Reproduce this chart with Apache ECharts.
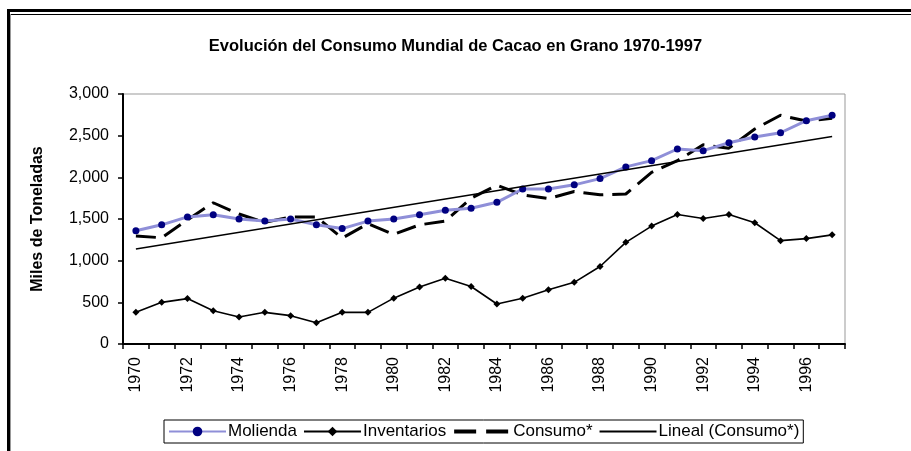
<!DOCTYPE html>
<html>
<head>
<meta charset="utf-8">
<script src="https://cdn.jsdelivr.net/npm/echarts@6/dist/echarts.min.js"></script>
<style>html,body{margin:0;padding:0;background:#fff}#c{width:911px;height:451px}</style>
</head>
<body>
<div id="c"></div>
<script>
var years = ['1970','1971','1972','1973','1974','1975','1976','1977','1978','1979','1980','1981','1982','1983','1984','1985','1986','1987','1988','1989','1990','1991','1992','1993','1994','1995','1996','1997'];
var molienda = [1360,1430,1525,1550,1500,1475,1500,1430,1385,1475,1500,1550,1605,1630,1700,1860,1860,1910,1985,2125,2200,2340,2320,2415,2485,2535,2680,2745];
var inventarios = [380,500,545,400,325,380,340,255,380,380,550,685,790,690,480,550,650,740,930,1220,1415,1555,1505,1555,1455,1240,1265,1310];
var consumo = [1295,1275,1490,1695,1560,1460,1525,1525,1270,1445,1315,1430,1475,1750,1905,1790,1745,1830,1790,1800,2060,2200,2390,2350,2580,2745,2675,2710];
var linealYears = ['1970','1997'];
var linealValues = [1140,2490];
var yTicks = [0,500,1000,1500,2000,2500,3000];

var FONT = '"Liberation Sans", Arial, sans-serif';
var chart = echarts.init(document.getElementById('c'), null, {renderer:'canvas'});
chart.setOption({
  backgroundColor:'#fff',
  animation:false,
  textStyle:{fontFamily:FONT},
  title:{
    text:'Evolución del Consumo Mundial de Cacao en Grano 1970-1997',
    left:'center', top:33,
    textStyle:{fontFamily:FONT,fontSize:16.5,fontWeight:'bold',color:'#000'}
  },
  graphic:[
    {type:'line',shape:{x1:7,y1:10.5,x2:911,y2:10.5},style:{stroke:'#000',lineWidth:3}},
    {type:'line',shape:{x1:10,y1:14.5,x2:911,y2:14.5},style:{stroke:'#000',lineWidth:1.2}},
    {type:'line',shape:{x1:8.5,y1:9,x2:8.5,y2:451},style:{stroke:'#000',lineWidth:3}},
    {type:'line',shape:{x1:10.5,y1:14,x2:10.5,y2:451},style:{stroke:'#999',lineWidth:1}}
  ],
  legend:{
    left:164, top:420, width:680,
    padding:[3,4,3,4],
    borderColor:'#000', borderWidth:1,
    itemWidth:57, itemHeight:12, itemGap:6,
    textStyle:{fontFamily:FONT,fontSize:17,color:'#000',padding:[0,0,0,-3]},
    data:[
      {name:'Molienda'},
      {name:'Inventarios'},
      {name:'Consumo*',itemStyle:{opacity:0},lineStyle:{width:4,type:[22,10]}},
      {name:'Lineal (Consumo*)',itemStyle:{opacity:0}}
    ]
  },
  grid:{left:123,right:66,top:94,bottom:107,show:true,borderColor:'#999',borderWidth:1,containLabel:false},
  xAxis:{
    type:'category', data:years, boundaryGap:true,
    axisLine:{lineStyle:{color:'#000',width:2}},
    axisTick:{show:true,interval:0,length:5,lineStyle:{color:'#000',width:1.5}},
    axisLabel:{interval:1,rotate:90,margin:13,fontFamily:FONT,fontSize:16,color:'#000'},
    splitLine:{show:false}
  },
  yAxis:{
    type:'value', min:0, max:3000, interval:500,
    name:'Miles de Toneladas', nameLocation:'middle', nameGap:77,
    nameTextStyle:{fontFamily:FONT,fontSize:16,fontWeight:'bold',color:'#000'},
    axisLine:{show:true,lineStyle:{color:'#000',width:2}},
    axisTick:{show:true,length:5,lineStyle:{color:'#000',width:1.5}},
    axisLabel:{margin:14,fontFamily:FONT,fontSize:16,color:'#000',
      formatter:function(v){return v.toLocaleString('en-US');}},
    splitLine:{show:false}
  },
  series:[
    {name:'Molienda',type:'line',data:molienda,symbol:'circle',symbolSize:7,
      lineStyle:{color:'#8f8fd8',width:3},itemStyle:{color:'#000080'},z:4},
    {name:'Inventarios',type:'line',data:inventarios,symbol:'diamond',symbolSize:7,
      lineStyle:{color:'#000',width:1.6},itemStyle:{color:'#000'},z:3},
    {name:'Consumo*',type:'line',data:consumo,symbol:'none',
      lineStyle:{color:'#000',width:3,type:[20,9]},itemStyle:{color:'#000'},z:2},
    {name:'Lineal (Consumo*)',type:'line',data:linealYears.map(function(y,i){return [y,linealValues[i]];}),symbol:'none',
      lineStyle:{color:'#000',width:1.3},itemStyle:{color:'#000'},z:5}
  ]
});
</script>
</body>
</html>
